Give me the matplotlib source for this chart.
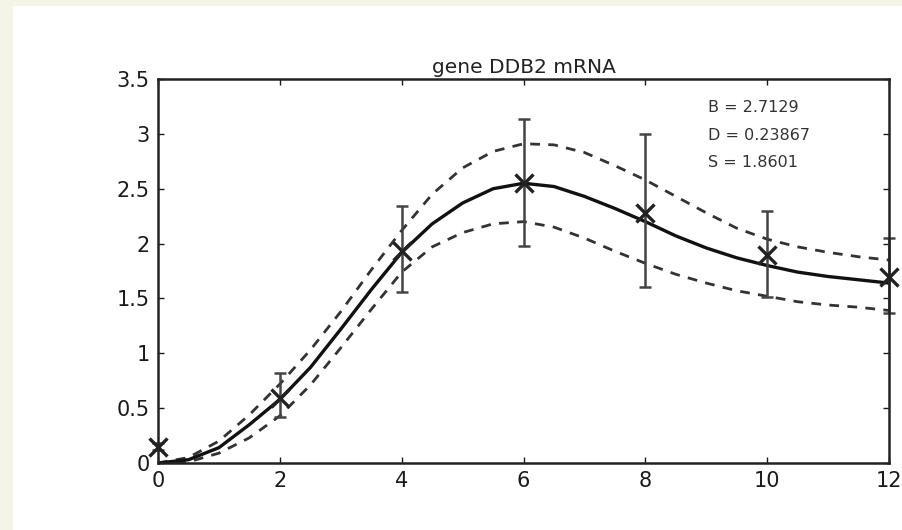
import numpy as np
import matplotlib.pyplot as plt
from matplotlib.patches import Rectangle

# measured points (time in hours, mRNA level) with error bars
t_obs = [0, 2, 4, 6, 8, 10, 12]
y_obs = [0.15, 0.59, 1.93, 2.55, 2.28, 1.90, 1.70]
err_lo = [0.03, 0.17, 0.37, 0.57, 0.68, 0.39, 0.33]
err_hi = [0.03, 0.23, 0.41, 0.59, 0.72, 0.40, 0.35]

# fitted curve and its confidence band
t_fit = [0, 0.5, 1, 1.5, 2, 2.5, 3, 3.5, 4, 4.5, 5, 5.5, 6, 6.5, 7, 7.5,
         8, 8.5, 9, 9.5, 10, 10.5, 11, 11.5, 12]
y_fit = [0.0, 0.03, 0.14, 0.35, 0.58, 0.87, 1.22, 1.58, 1.92, 2.18, 2.37, 2.50, 2.55,
         2.52, 2.43, 2.32, 2.20, 2.07, 1.96, 1.87, 1.80, 1.74, 1.70, 1.67, 1.64]
y_upper = [0.0, 0.05, 0.20, 0.44, 0.72, 1.03, 1.38, 1.76, 2.12, 2.45, 2.69, 2.84, 2.91,
           2.90, 2.83, 2.71, 2.58, 2.43, 2.28, 2.14, 2.04, 1.97, 1.92, 1.88, 1.85]
y_lower = [0.0, 0.01, 0.09, 0.23, 0.43, 0.71, 1.05, 1.40, 1.74, 1.97, 2.10, 2.18, 2.20,
           2.15, 2.05, 1.93, 1.82, 1.72, 1.64, 1.57, 1.52, 1.47, 1.44, 1.42, 1.39]

params = ["B = 2.7129", "D = 0.23867", "S = 1.8601"]

fig = plt.figure(figsize=(9.03, 5.30), dpi=100, facecolor="#f5f5e6")
fig.patches.append(Rectangle((13 / 903, 0), 1, 1 - 6 / 530, transform=fig.transFigure,
                             facecolor="white", edgecolor="none", zorder=-10))

ax = fig.add_axes([0.175, 0.1264, 0.8096, 0.7245])
ax.set_facecolor("white")

ax.plot(t_fit, y_upper, color="#333333", lw=2.0, ls=(0, (3.5, 3)))
ax.plot(t_fit, y_lower, color="#333333", lw=2.0, ls=(0, (3.5, 3)))
ax.plot(t_fit, y_fit, color="#111111", lw=2.4)
ax.errorbar(t_obs, y_obs, yerr=[err_lo, err_hi], fmt="none", ecolor="#444444",
            elinewidth=1.8, capsize=4, capthick=1.8, clip_on=False)
ax.plot(t_obs, y_obs, "x", color="#222222", ms=13, mew=2.4, clip_on=False, zorder=5)

for i, s in enumerate(params):
    ax.text(0.752, 0.925 - i * 0.071, s, transform=ax.transAxes, fontsize=11.5,
            family="DejaVu Sans", color="#333333", va="center", ha="left")

ax.set_xlim(0, 12)
ax.set_ylim(0, 3.5)
ax.set_xticks(range(0, 13, 2))
ax.set_yticks(np.arange(0, 3.51, 0.5))
ax.set_yticklabels(["0", "0.5", "1", "1.5", "2", "2.5", "3", "3.5"])
ax.tick_params(direction="in", top=True, right=True, length=4, width=1,
               labelsize=15, colors="#1a1a1a", pad=6)
for lab in ax.get_xticklabels() + ax.get_yticklabels():
    lab.set_family("DejaVu Sans")
for sp in ax.spines.values():
    sp.set_linewidth(1.8)
    sp.set_color("#222222")

ax.set_title("gene DDB2 mRNA", fontsize=14.5, family="DejaVu Sans", color="#222222", pad=4)

fig.savefig("out.png", dpi=100, facecolor=fig.get_facecolor())
